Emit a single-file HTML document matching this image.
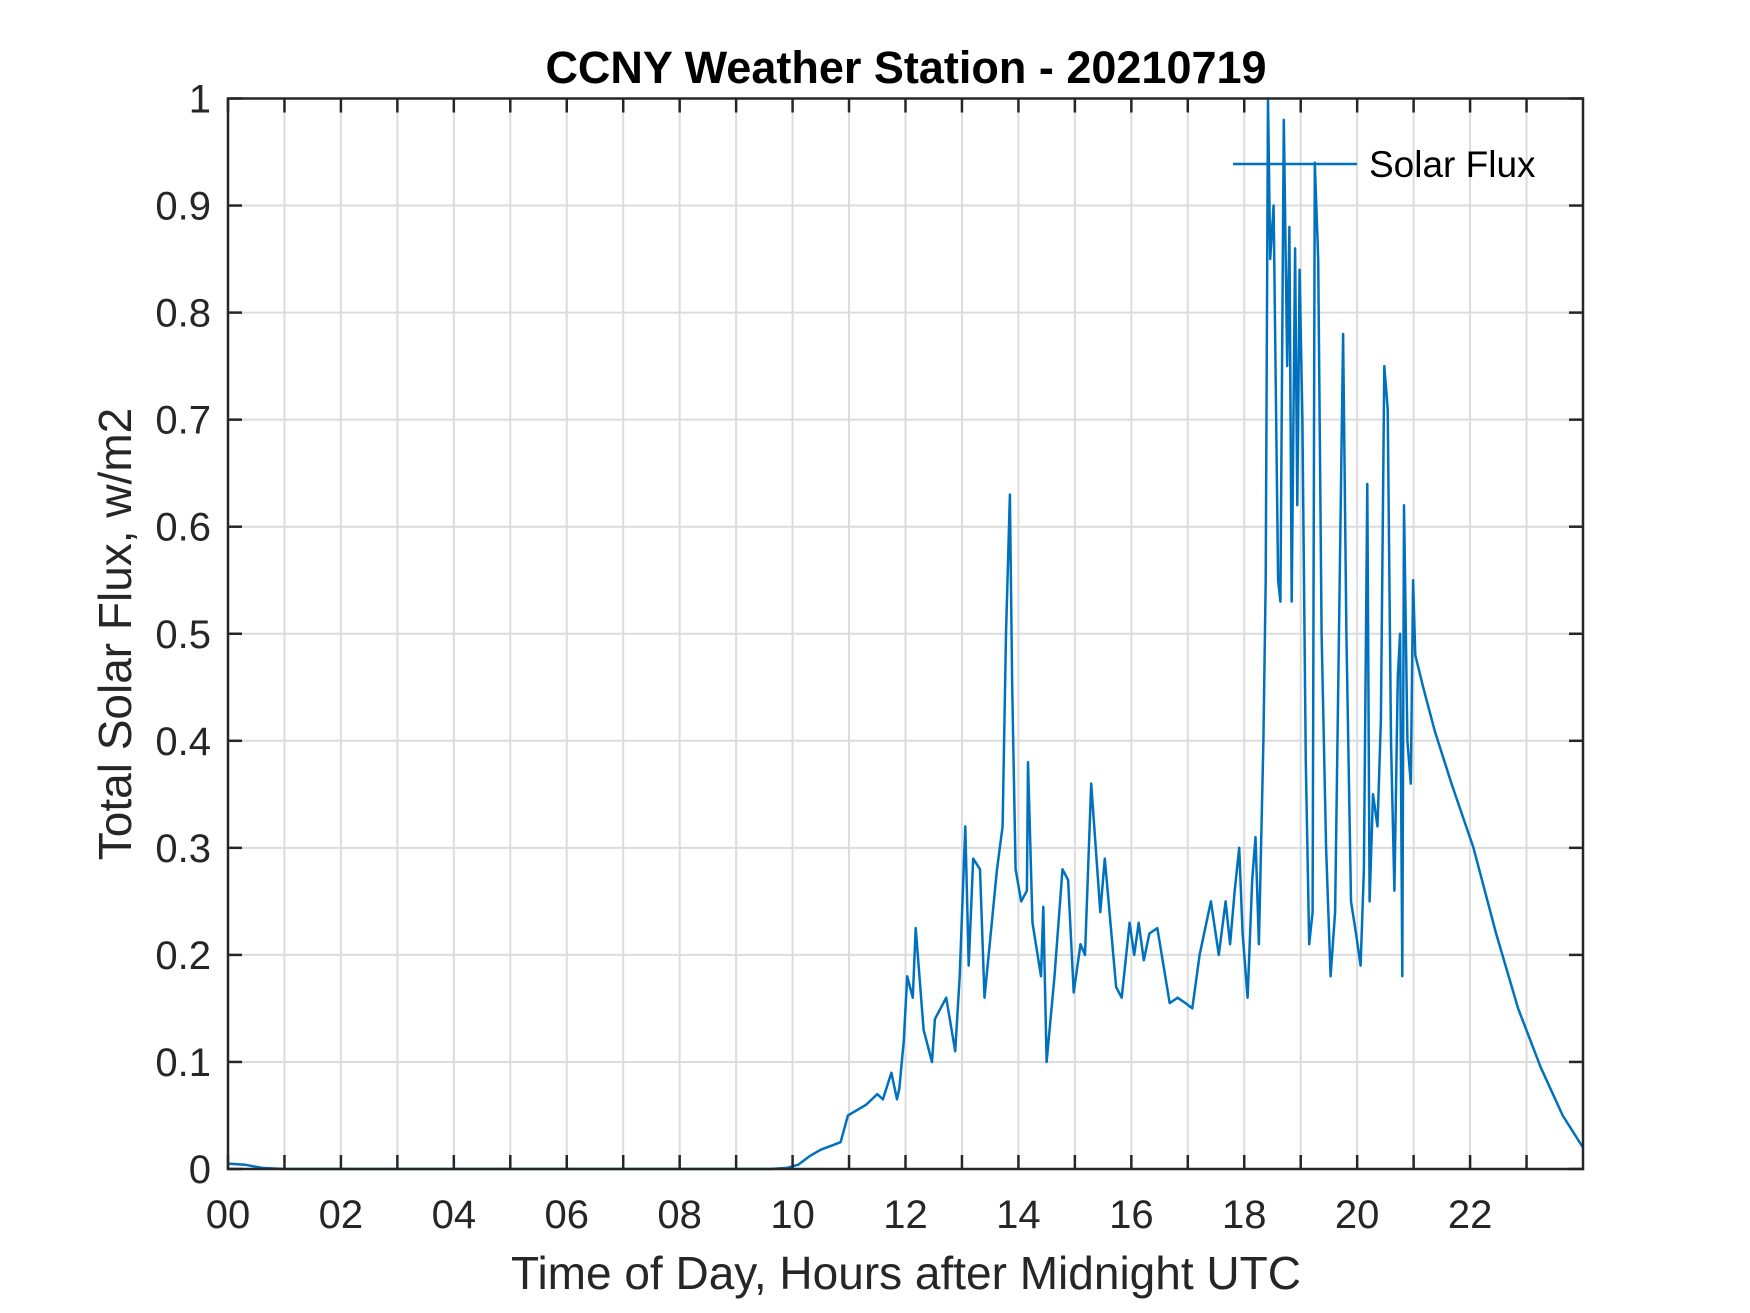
<!DOCTYPE html>
<html><head><meta charset="utf-8"><style>
html,body{margin:0;padding:0;background:#fff;}
svg{display:block;font-family:"Liberation Sans",Arial,sans-serif;}
</style></head><body>
<svg id="chart" width="1750" height="1313" viewBox="0 0 1750 1313" xmlns="http://www.w3.org/2000/svg">
<rect x="0" y="0" width="1750" height="1313" fill="#fff"/>
<g id="grid"></g>
<g id="series"></g>
<g id="axes"></g>
<text x="906" y="83" text-anchor="middle" font-size="45" font-weight="bold" fill="#000">CCNY Weather Station - 20210719</text>
<text x="906" y="1289" text-anchor="middle" font-size="46" fill="#262626">Time of Day, Hours after Midnight UTC</text>
<text transform="translate(131,634) rotate(-90)" text-anchor="middle" font-size="46" fill="#262626">Total Solar Flux, w/m2</text>
<g>
<line x1="1233" y1="164" x2="1357" y2="164" stroke="#0072BD" stroke-width="2.5"/>
<text x="1369" y="177" font-size="37" fill="#000">Solar Flux</text>
</g>
</svg>
<script>
const hours = [0,0.3,0.6,1,3,6,9,9.6,9.9,10.1,10.3,10.5,10.7,10.85,10.98,11.3,11.5,11.6,11.75,11.85,11.89,11.97,12.03,12.13,12.18,12.32,12.47,12.52,12.72,12.88,12.96,13.06,13.12,13.20,13.32,13.40,13.62,13.72,13.78,13.85,13.89,13.95,14.05,14.15,14.17,14.25,14.40,14.44,14.50,14.64,14.78,14.88,14.98,15.10,15.18,15.29,15.45,15.53,15.73,15.83,15.97,16.05,16.13,16.22,16.32,16.46,16.68,16.82,16.96,17.08,17.21,17.41,17.55,17.67,17.75,17.83,17.91,17.97,18.06,18.14,18.20,18.26,18.34,18.38,18.42,18.46,18.52,18.60,18.64,18.70,18.76,18.80,18.84,18.90,18.94,18.98,19.03,19.09,19.15,19.21,19.25,19.31,19.37,19.45,19.53,19.61,19.69,19.75,19.81,19.89,19.98,20.06,20.12,20.18,20.22,20.28,20.36,20.42,20.48,20.54,20.60,20.66,20.72,20.76,20.80,20.83,20.89,20.95,20.99,21.03,21.17,21.37,21.67,22.06,22.46,22.85,23.25,23.64,24.0];
const flux = [0.005,0.004,0.001,0,0,0,0,0,0.001,0.004,0.012,0.018,0.022,0.025,0.05,0.06,0.07,0.065,0.09,0.065,0.075,0.12,0.18,0.16,0.225,0.13,0.10,0.14,0.16,0.11,0.18,0.32,0.19,0.29,0.28,0.16,0.28,0.32,0.5,0.63,0.45,0.28,0.25,0.26,0.38,0.23,0.18,0.245,0.10,0.18,0.28,0.27,0.165,0.21,0.20,0.36,0.24,0.29,0.17,0.16,0.23,0.20,0.23,0.195,0.22,0.225,0.155,0.16,0.155,0.15,0.20,0.25,0.20,0.25,0.21,0.26,0.30,0.22,0.16,0.27,0.31,0.21,0.40,0.55,1.0,0.85,0.90,0.55,0.53,0.98,0.75,0.88,0.53,0.86,0.62,0.84,0.70,0.38,0.21,0.24,0.94,0.85,0.50,0.30,0.18,0.24,0.55,0.78,0.50,0.25,0.22,0.19,0.28,0.64,0.25,0.35,0.32,0.42,0.75,0.71,0.40,0.26,0.46,0.50,0.18,0.62,0.40,0.36,0.55,0.48,0.45,0.41,0.36,0.30,0.22,0.15,0.095,0.05,0.02];
const xTickLabels = ["00","02","04","06","08","10","12","14","16","18","20","22"];
const yTickLabels = ["0","0.1","0.2","0.3","0.4","0.5","0.6","0.7","0.8","0.9","1"];

const L=228,R=1583,T=98.5,B=1169;
const xMin=0,xMax=24,yMin=0,yMax=1;
const xs=h=>L+(h-xMin)/(xMax-xMin)*(R-L);
const ys=v=>B-(v-yMin)/(yMax-yMin)*(B-T);
const NS="http://www.w3.org/2000/svg";
function mk(tag,attrs,parent){const e=document.createElementNS(NS,tag);for(const k in attrs)e.setAttribute(k,attrs[k]);parent.appendChild(e);return e;}
const grid=document.getElementById('grid'),axes=document.getElementById('axes'),series=document.getElementById('series');

for(let h=1;h<24;h++){
  const l=mk('line',{x1:xs(h),x2:xs(h),y1:T,y2:B,stroke:'#dcdcdc','stroke-width':2},grid);
  
  
}
for(let i=1;i<yTickLabels.length-1;i++){
  const v=parseFloat(yTickLabels[i]);
  const l=mk('line',{x1:L,x2:R,y1:ys(v),y2:ys(v),stroke:'#dcdcdc','stroke-width':2},grid);
  
  
}
const pts=hours.map((h,i)=>xs(h).toFixed(1)+','+ys(flux[i]).toFixed(1)).join(' ');
const pl=mk('polyline',{points:pts,fill:'none',stroke:'#0072BD','stroke-width':2.5,'stroke-linejoin':'round'},series);



const box=mk('rect',{x:L,y:T,width:R-L,height:B-T,fill:'none',stroke:'#262626','stroke-width':2.5},axes);


for(let h=0;h<24;h++){
  mk('line',{x1:xs(h),x2:xs(h),y1:B,y2:B-14,stroke:'#262626','stroke-width':2.5},axes);
  mk('line',{x1:xs(h),x2:xs(h),y1:T,y2:T+14,stroke:'#262626','stroke-width':2.5},axes);
}
xTickLabels.forEach((s,i)=>{
  const t=mk('text',{x:xs(parseInt(s,10)),y:1228,'text-anchor':'middle','font-size':40,fill:'#262626'},axes);
  t.textContent=s;
  
  
});
yTickLabels.forEach((s)=>{
  const v=parseFloat(s);
  mk('line',{x1:L,x2:L+14,y1:ys(v),y2:ys(v),stroke:'#262626','stroke-width':2.5},axes);
  mk('line',{x1:R,x2:R-14,y1:ys(v),y2:ys(v),stroke:'#262626','stroke-width':2.5},axes);
  const t=mk('text',{x:211,y:ys(v)+14,'text-anchor':'end','font-size':40,fill:'#262626'},axes);
  t.textContent=s;
  
  
});
</script>
</body></html>
